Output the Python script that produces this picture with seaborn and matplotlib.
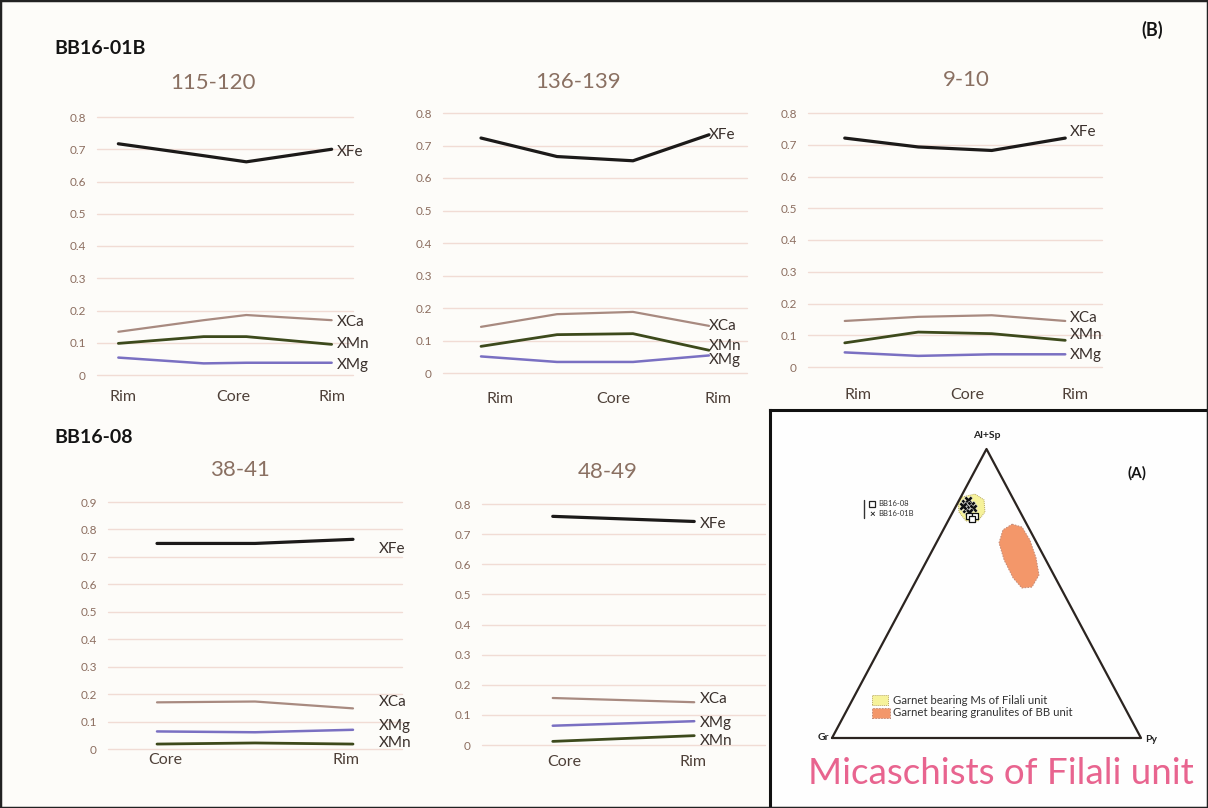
import numpy as np
import pandas as pd
import matplotlib.pyplot as plt
import seaborn as sns
from matplotlib.patches import Polygon, Rectangle

elements = ['XFe', 'XCa', 'XMn', 'XMg']

# BB16-01B, garnet 115-120 (six analysis slots along the profile, four plotted)
p1_slot = [0, 2, 3, 5]
p1_xfe = [0.717, 0.680, 0.661, 0.700]
p1_xca = [0.134, 0.170, 0.186, 0.170]
p1_xmn = [0.098, 0.119, 0.119, 0.095]
p1_xmg = [0.054, 0.036, 0.038, 0.038]

# BB16-01B, garnet 136-139
p2_slot = [0, 1, 2, 3]
p2_xfe = [0.723, 0.666, 0.653, 0.733]
p2_xca = [0.142, 0.181, 0.188, 0.145]
p2_xmn = [0.082, 0.118, 0.121, 0.070]
p2_xmg = [0.051, 0.034, 0.034, 0.054]

# BB16-01B, garnet 9-10
p3_slot = [0, 1, 2, 3]
p3_xfe = [0.721, 0.693, 0.682, 0.721]
p3_xca = [0.145, 0.158, 0.163, 0.145]
p3_xmn = [0.076, 0.110, 0.105, 0.084]
p3_xmg = [0.046, 0.035, 0.040, 0.040]

# BB16-08, garnet 38-41
p4_slot = [0, 1, 2]
p4_xfe = [0.749, 0.749, 0.764]
p4_xca = [0.170, 0.173, 0.148]
p4_xmn = [0.018, 0.022, 0.018]
p4_xmg = [0.064, 0.061, 0.070]

# BB16-08, garnet 48-49
p5_slot = [0, 1]
p5_xfe = [0.759, 0.742]
p5_xca = [0.156, 0.142]
p5_xmn = [0.012, 0.031]
p5_xmg = [0.064, 0.079]

# ternary Al+Sp / Gr / Py (fractions of Al+Sp and Py, Gr is the rest)
bb01b_alsp = [0.813, 0.824, 0.806, 0.792, 0.796, 0.782, 0.803]
bb01b_py = [0.024, 0.028, 0.047, 0.038, 0.058, 0.052, 0.022]
bb08_alsp = [0.768, 0.768, 0.758]
bb08_py = [0.059, 0.079, 0.074]
filali_alsp = [0.834, 0.844, 0.824, 0.782, 0.751, 0.751, 0.782, 0.813]
filali_py = [0.004, 0.041, 0.080, 0.104, 0.097, 0.058, 0.020, 0.001]
bb_alsp = [0.740, 0.730, 0.685, 0.623, 0.564, 0.522, 0.519, 0.554, 0.616, 0.675, 0.720]
bb_py = [0.213, 0.250, 0.298, 0.349, 0.388, 0.386, 0.355, 0.309, 0.249, 0.203, 0.193]

BG = '#fdfcf9'
GRID = '#f1dcd5'
TICK = '#8c6e60'
TITLE = '#8a7062'
CAT = '#4e4038'
LBL = '#3a302c'
line_colors = {'XFe': '#1c1a19', 'XCa': '#a88a80', 'XMn': '#3d4a1c', 'XMg': '#7a70c2'}
line_widths = {'XFe': 2.3, 'XCa': 1.6, 'XMn': 2.0, 'XMg': 1.8}

sns.set_theme(style='white')
plt.rcParams['font.family'] = ['Lato', 'DejaVu Sans']

W, H = 1208, 808
fig = plt.figure(figsize=(W / 100, H / 100), dpi=100)
fig.patch.set_facecolor(BG)


def px_axes(x0, x1, ytop, ybot):
    return fig.add_axes([x0 / W, 1 - ybot / H, (x1 - x0) / W, (ybot - ytop) / H])


def fig_text(x, y, s, **kw):
    fig.text(x / W, 1 - y / H, s, **kw)


def fig_rect(x, y, w, h, **kw):
    fig.add_artist(Rectangle((x / W, 1 - (y + h) / H), w / W, h / H,
                             transform=fig.transFigure, **kw))


def draw_profile(ax, slots, series, nslot, ymax, tick_x, tick_lab, tick_pad,
                 label_x, label_y):
    df = pd.DataFrame({
        'slot': slots * len(elements),
        'value': sum(series, []),
        'element': np.repeat(elements, len(slots)),
    })
    sns.lineplot(data=df, x='slot', y='value', hue='element', size='element',
                 palette=line_colors, sizes=line_widths, estimator=None,
                 sort=False, legend=False, ax=ax)
    ax.set_facecolor(BG)
    ax.set_xlim(-0.5, nslot - 0.5)
    ax.set_ylim(0, ymax)
    yt = np.arange(0, ymax + 0.001, 0.1)
    ax.set_yticks(yt)
    ax.set_yticklabels([f'{t:g}' for t in yt])
    ax.set_xticks(tick_x)
    ax.set_xticklabels(tick_lab)
    ax.grid(axis='y', color=GRID, lw=1.0)
    ax.set_axisbelow(True)
    for gl in ax.get_ygridlines():
        gl.set_clip_on(False)
    sns.despine(ax=ax, left=True, bottom=True)
    ax.tick_params(axis='y', length=0, pad=8, labelsize=8.5, labelcolor=TICK)
    ax.tick_params(axis='x', length=0, pad=tick_pad, labelsize=11.5, labelcolor=CAT)
    ax.set_xlabel('')
    ax.set_ylabel('')
    for el, ly in zip(elements, label_y):
        ax.text(label_x, ly, el, ha='left', va='center', fontsize=11,
                color=LBL, clip_on=False)


ax1 = px_axes(97, 353, 117, 375)
draw_profile(ax1, p1_slot, [p1_xfe, p1_xca, p1_xmn, p1_xmg], 6, 0.8,
             [0.1, 2.7, 5.0], ['Rim', 'Core', 'Rim'], 11,
             5.13, [0.69, 0.165, 0.096, 0.031])

ax2 = px_axes(443, 747, 113, 373)
draw_profile(ax2, p2_slot, [p2_xfe, p2_xca, p2_xmn, p2_xmg], 4, 0.8,
             [0.25, 1.74, 3.12], ['Rim', 'Core', 'Rim'], 14,
             3.0, [0.733, 0.145, 0.082, 0.039])

ax3 = px_axes(808, 1102, 113, 367)
draw_profile(ax3, p3_slot, [p3_xfe, p3_xca, p3_xmn, p3_xmg], 4, 0.8,
             [0.18, 1.66, 3.13], ['Rim', 'Core', 'Rim'], 15,
             3.06, [0.739, 0.153, 0.100, 0.037])

ax4 = px_axes(108, 402, 502, 749)
draw_profile(ax4, p4_slot, [p4_xfe, p4_xca, p4_xmn, p4_xmg], 3, 0.9,
             [0.08, 1.93], ['Core', 'Rim'], 3,
             2.26, [0.727, 0.170, 0.022, 0.085])

ax5 = px_axes(482, 765, 504, 745)
draw_profile(ax5, p5_slot, [p5_xfe, p5_xca, p5_xmn, p5_xmg], 2, 0.8,
             [0.08, 0.99], ['Core', 'Rim'], 7.5,
             1.04, [0.735, 0.153, 0.012, 0.073])

# panel titles and sample names
for x, y, s in [(213, 83, '115-120'), (578, 82, '136-139'), (966, 80, '9-10'),
                (240, 470, '38-41'), (608, 472, '48-49')]:
    fig_text(x, y, s, ha='center', va='center', fontsize=16, color=TITLE)
fig_text(54, 48, 'BB16-01B', ha='left', va='center', fontsize=14,
         fontweight='bold', color='#141414')
fig_text(54, 437, 'BB16-08', ha='left', va='center', fontsize=14,
         fontweight='bold', color='#141414')
fig_text(1152, 30, '(B)', ha='center', va='center', fontsize=13,
         fontweight='bold', color='#141414')

# ternary inset
tern = px_axes(770, 1208, 410, 808)
tern.set_facecolor('#fefefe')
tern.set_xlim(-62 / 309, 376 / 309)
tern.set_ylim(-70 / 289, 328 / 289)
tern.set_xticks([])
tern.set_yticks([])
for sp in tern.spines.values():
    sp.set_visible(True)
    sp.set_color('#111111')
    sp.set_linewidth(2.2)


def tern_xy(alsp, py):
    a = np.asarray(alsp)
    p = np.asarray(py)
    return p + a / 2, a


tern.plot([0, 1, 0.5, 0], [0, 0, 1, 0], color='#2b2420', lw=1.6)

fx, fy = tern_xy(filali_alsp, filali_py)
tern.add_patch(Polygon(np.column_stack([fx, fy]), closed=True,
                       facecolor='#f6f29a', edgecolor='#b8a860', lw=0.7,
                       ls=(0, (1, 1)), joinstyle='round'))
bx, by = tern_xy(bb_alsp, bb_py)
tern.add_patch(Polygon(np.column_stack([bx, by]), closed=True,
                       facecolor='#f3976a', edgecolor='#c08a78', lw=0.7,
                       ls=(0, (1.5, 1.5)), joinstyle='round'))

x01, y01 = tern_xy(bb01b_alsp, bb01b_py)
sns.scatterplot(x=x01, y=y01, marker='X', color='#111111', s=40,
                linewidth=0.3, ax=tern, legend=False, zorder=4)
x08, y08 = tern_xy(bb08_alsp, bb08_py)
sns.scatterplot(x=x08, y=y08, marker='s', facecolor='white',
                edgecolor='#111111', s=18, linewidth=0.9, ax=tern,
                legend=False, zorder=5)
tern.set_xlabel('')
tern.set_ylabel('')

fig_text(987, 436, 'Al+Sp', ha='center', va='center', fontsize=7.5,
         fontweight='bold', color='#222222')
fig_text(829, 738, 'Gr', ha='right', va='center', fontsize=7.5,
         fontweight='bold', color='#222222')
fig_text(1145, 740, 'Py', ha='left', va='center', fontsize=7.5,
         fontweight='bold', color='#222222')
fig_text(1137, 473, '(A)', ha='center', va='center', fontsize=11,
         fontweight='bold', color='#141414')

# sample key
fig.add_artist(plt.Line2D([864 / W, 864 / W], [1 - 500 / H, 1 - 518 / H],
                          transform=fig.transFigure, color='#333333', lw=1))
fig_rect(869, 501, 6, 6, facecolor='white', edgecolor='#222222', lw=0.9)
fig_text(872, 514, '×', ha='center', va='center', fontsize=7,
         fontweight='bold', color='#222222')
fig_text(878, 504, 'BB16-08', ha='left', va='center', fontsize=5.5,
         color='#333333')
fig_text(878, 514, 'BB16-01B', ha='left', va='center', fontsize=5.5,
         color='#333333')

# field key
fig_rect(872, 695, 16, 10, facecolor='#f6f29a', edgecolor='#b8a860', lw=0.7,
         ls=(0, (1, 1)))
fig_rect(872, 708, 18, 10, facecolor='#f3976a', edgecolor='#c08a78', lw=0.7,
         ls=(0, (1.5, 1.5)))
fig_text(893, 700, 'Garnet bearing Ms of Filali unit', ha='left', va='center',
         fontsize=8.2, color='#333333')
fig_text(893, 713, 'Garnet bearing granulites of BB unit', ha='left',
         va='center', fontsize=8.2, color='#333333')

fig_text(808, 773, 'Micaschists of Filali unit', ha='left', va='center',
         fontsize=26.5, color='#e8648f')

# outer frame
fig.add_artist(Rectangle((0, 0), 1, 1, transform=fig.transFigure,
                         fill=False, edgecolor='#222222', lw=2.5))

fig.savefig('out.png', dpi=100, facecolor=BG)
